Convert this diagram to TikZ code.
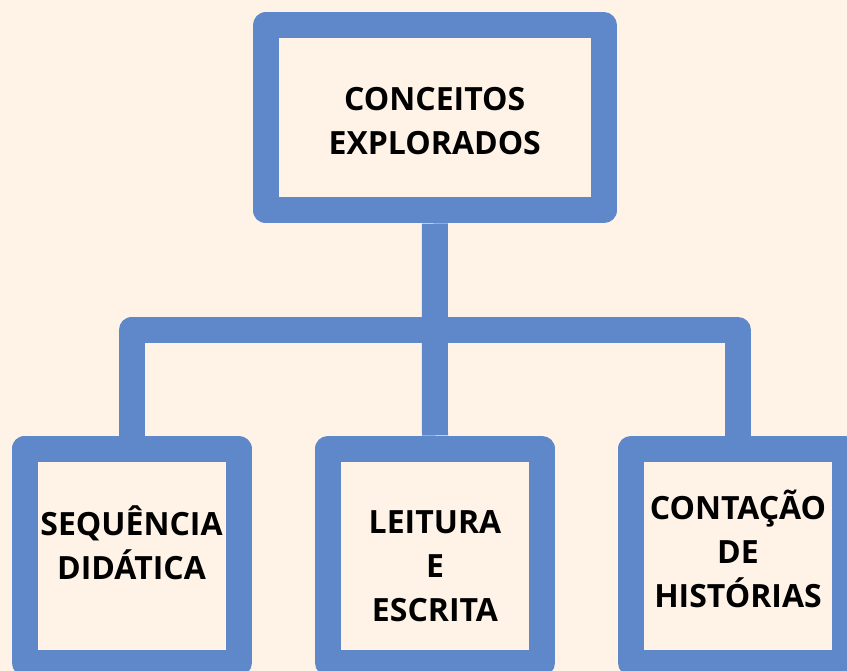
\documentclass[tikz,border=0pt]{standalone}
\usepackage{fontspec}
\setmainfont{Open Sans}
\usepackage{tikz}
\usetikzlibrary{positioning}
\definecolor{boxblue}{HTML}{5E88CA}
\definecolor{cream}{HTML}{FFF3E8}

\begin{document}
\begin{tikzpicture}[x = 1pt, y = -1pt,
	box/.style = {draw = boxblue, line width = 26pt, line join = round, minimum width = 214pt, minimum height = 214.5pt, inner sep = 0pt},
	link/.style = {draw = boxblue, line width = 26pt, line join = round},
	title/.style = {font = \bfseries\fontsize{32}{44}\selectfont, align = center, inner sep = 0pt}]
						\fill[cream] (0, 0) rectangle (847, 671);
						\useasboundingbox (0, 0) rectangle (847, 671);
						\node[box, minimum width = 338.5pt, minimum height = 185pt] (top) at (434.75, 118) {};
						\node[box] (seq) at (131.5, 555.75) {};
						\node[box] (leit) at (435, 555.75) {};
						\node[box] (hist) at (738, 555.75) {};
						\coordinate (junction) at (435, 330);
						\draw[link] (top.south) -- (leit.north);
						\draw[link] (seq.north) |- (junction) -| (hist.north);
						\node[title] (toptext) at (434.75, 121.5) {CONCEITOS\\EXPLORADOS};
						\node[title] (seqtext) at (131.5, 543) {SEQUÊNCIA\\DIDÁTICA};
						\node[title] (leittext) at (435, 566) {LEITURA\\E\\ESCRITA};
						\node[title] (histtext) at (738, 549) {CONTAÇÃO\\DE\\HISTÓRIAS};
					\end{tikzpicture}
\end{document}
